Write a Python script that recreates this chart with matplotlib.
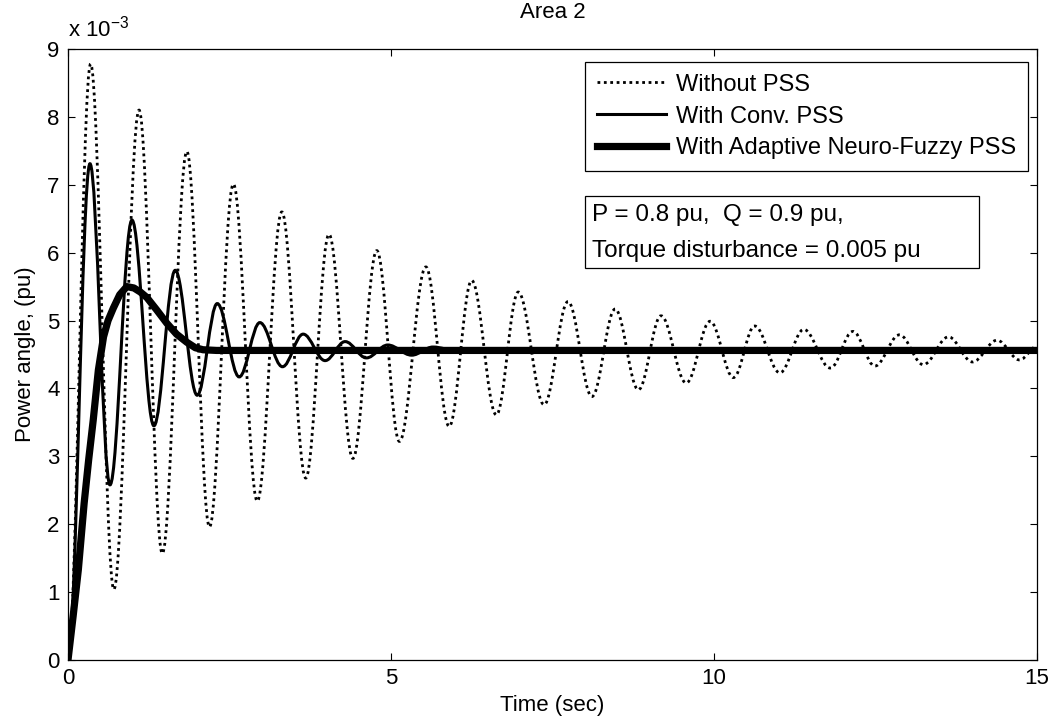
import matplotlib
matplotlib.use("Agg")
import matplotlib.pyplot as plt
from matplotlib.path import Path
from matplotlib.patches import PathPatch, Rectangle
from matplotlib.lines import Line2D

plt.rcParams["font.family"] = ["Liberation Sans", "DejaVu Sans"]
plt.rcParams["mathtext.fontset"] = "custom"
plt.rcParams["mathtext.rm"] = "Liberation Sans"

# Power angle in Area 2 (units of 1e-3 pu), read at the extrema of each curve
t_sem_pss = [0, 0.35, 0.71, 1.10, 1.46, 1.84, 2.19, 2.56, 2.93, 3.31, 3.68,
             4.04, 4.41, 4.78, 5.13, 5.54, 5.90, 6.25, 6.63, 6.97, 7.37,
             7.74, 8.11, 8.47, 8.83, 9.18, 9.57, 9.94, 10.30, 10.63, 11.02,
             11.39, 11.80, 12.15, 12.49, 12.87, 13.24, 13.63, 14.00, 14.38,
             14.73, 15.0]
v_sem_pss = [0, 8.78, 1.04, 8.10, 1.57, 7.49, 1.96, 7.01, 2.34, 6.60, 2.68,
             6.27, 2.97, 6.03, 3.22, 5.79, 3.44, 5.59, 3.61, 5.42, 3.76,
             5.28, 3.88, 5.17, 3.98, 5.07, 4.08, 4.99, 4.16, 4.92, 4.23,
             4.87, 4.30, 4.84, 4.33, 4.79, 4.35, 4.76, 4.39, 4.71, 4.42,
             4.62]

t_conv = [0, 0.34, 0.65, 0.99, 1.33, 1.66, 2.00, 2.31, 2.65, 2.97, 3.32,
          3.64, 3.98, 4.29, 4.62, 4.95, 5.32, 5.65, 6.0, 15.0]
v_conv = [0, 7.31, 2.58, 6.48, 3.45, 5.74, 3.90, 5.25, 4.17, 4.97, 4.32,
          4.80, 4.41, 4.69, 4.45, 4.64, 4.49, 4.61, 4.56, 4.56]

t_anfis = [0, 0.08, 0.16, 0.25, 0.32, 0.39, 0.47, 0.55, 0.62, 0.70, 0.80,
           0.91, 1.02, 1.12, 1.22, 1.37, 1.53, 1.68, 1.84, 1.97, 2.09, 2.30,
           2.60, 15.0]
v_anfis = [0, 0.65, 1.33, 2.31, 2.95, 3.53, 4.27, 4.76, 5.00, 5.18, 5.38,
           5.50, 5.48, 5.42, 5.34, 5.16, 4.96, 4.80, 4.68, 4.60, 4.57, 4.56,
           4.56, 4.56]

rotulos = ["Without PSS", "With Conv. PSS", "With Adaptive Neuro-Fuzzy PSS"]
x_ticks = [0, 5, 10, 15]
y_ticks = [0, 1, 2, 3, 4, 5, 6, 7, 8, 9]


def curva_suave(t, v, k=0.364):
    # smooth path through the extrema (horizontal tangent at each one)
    verts = [(t[0], v[0])]
    codes = [Path.MOVETO]
    for i in range(1, len(t)):
        dt = t[i] - t[i - 1]
        verts += [(t[i - 1] + k * dt, v[i - 1]), (t[i] - k * dt, v[i]), (t[i], v[i])]
        codes += [Path.CURVE4] * 3
    return Path(verts, codes)


fs = 16
fig = plt.figure(figsize=(10.58, 7.28), dpi=100)
ax = fig.add_axes([68 / 1058, 1 - 660 / 728, 969 / 1058, 611 / 728])

estilo_pontos = (0, (1, 1.3))
ax.add_patch(PathPatch(curva_suave(t_sem_pss, v_sem_pss), fill=False,
                       edgecolor="black", lw=2.0, linestyle=estilo_pontos))
ax.add_patch(PathPatch(curva_suave(t_conv, v_conv), fill=False,
                       edgecolor="black", lw=2.2))
ax.plot(t_anfis, v_anfis, color="black", lw=5.2, solid_joinstyle="round")

ax.set_xlim(0, 15)
ax.set_ylim(0, 9)
ax.set_xticks(x_ticks)
ax.set_yticks(y_ticks)
ax.tick_params(direction="in", top=True, right=True, length=5, width=0.8,
               labelsize=fs, pad=6)
for s in ax.spines.values():
    s.set_linewidth(0.9)

ax.set_xlabel("Time (sec)", fontsize=fs, labelpad=4)
ax.set_ylabel("Power angle, (pu)", fontsize=fs, labelpad=8)
ax.set_title("Area 2", fontsize=fs, pad=22)
ax.text(0.0, 1.012, r"x 10$^{-3}$", transform=ax.transAxes, fontsize=fs,
        ha="left", va="bottom")

handles = [Line2D([], [], color="black", lw=2.0, linestyle=estilo_pontos),
           Line2D([], [], color="black", lw=2.2),
           Line2D([], [], color="black", lw=5.2)]
leg = ax.legend(handles, rotulos, loc="upper right", bbox_to_anchor=(0.991, 0.979),
                prop={"size": 17}, frameon=True, fancybox=False, framealpha=1,
                edgecolor="black", handlelength=2.95, handletextpad=0.42,
                labelspacing=0.42, borderpad=0.5, borderaxespad=0)
leg.get_frame().set_linewidth(0.9)

ax.add_patch(Rectangle((0.534, 0.642), 0.406, 0.118, transform=ax.transAxes,
                       fill=False, edgecolor="black", lw=0.9))
ax.text(0.541, 0.729, "P = 0.8 pu,  Q = 0.9 pu,", transform=ax.transAxes,
        fontsize=17.5, va="center", ha="left")
ax.text(0.541, 0.670, "Torque disturbance = 0.005 pu", transform=ax.transAxes,
        fontsize=17.5, va="center", ha="left")

plt.savefig("out.png", dpi=100)
